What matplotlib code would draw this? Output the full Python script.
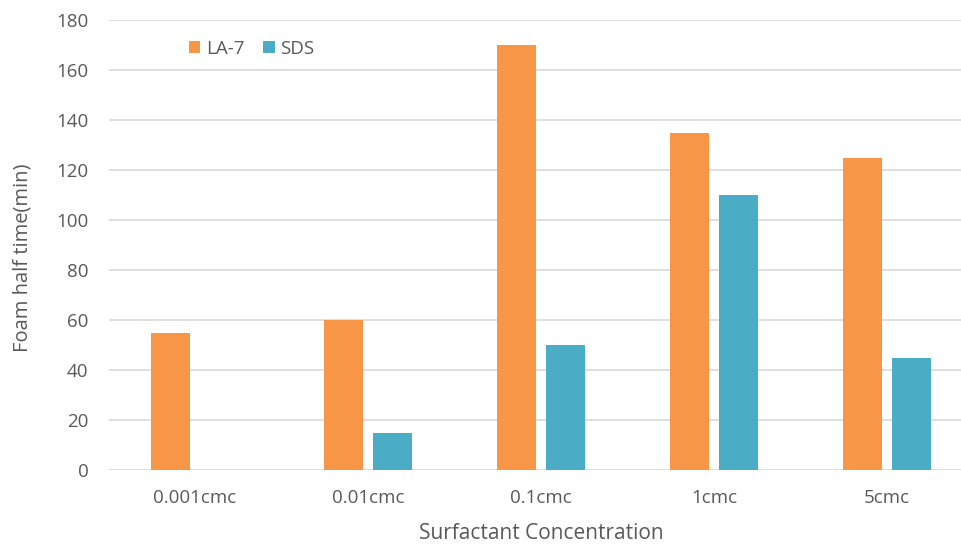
import numpy as np
import matplotlib.pyplot as plt

plt.rcParams['font.family'] = ['Open Sans', 'DejaVu Sans']

# Data
categories = ['0.001cmc', '0.01cmc', '0.1cmc', '1cmc', '5cmc']
la7 = [55, 60, 170, 135, 125]
sds = [0, 15, 50, 110, 45]

W, H = 961, 544
fig = plt.figure(figsize=(W / 100, H / 100), dpi=100)
ax = fig.add_axes([108.5 / W, 74 / H, 865 / W, 450 / H])

x = np.arange(len(categories))
bw = 0.225
off = 0.143
ax.bar(x - off, la7, bw, color='#F79646', label='LA-7', zorder=3)
ax.bar(x + off, sds, bw, color='#4BACC6', label='SDS', zorder=3)

ax.set_xlim(-0.5, 4.5)
ax.set_ylim(0, 180)
ax.set_yticks(range(0, 181, 20))
ax.set_xticks(x)
ax.set_xticklabels(categories)
ax.grid(axis='y', color='#d9d9d9', linewidth=1.2, zorder=0)
for s in ax.spines.values():
    s.set_visible(False)
ax.tick_params(length=0, colors='#595959', labelsize=13.5)
ax.tick_params(axis='y', pad=14.5)
ax.tick_params(axis='x', pad=14)

ax.set_ylabel('Foam half time(min)', fontsize=14.5, color='#595959')
ax.yaxis.set_label_coords(-0.099, 0.472)
ax.yaxis.label.set_va('center')
ax.set_xlabel('Surfactant Concentration', fontsize=15, color='#595959', labelpad=11)

leg = ax.legend(loc='upper left', bbox_to_anchor=(0.073, 0.994), ncol=2, frameon=False,
                fontsize=13.5, handlelength=0.62, handleheight=0.62, columnspacing=1.0,
                handletextpad=0.3)
for t in leg.get_texts():
    t.set_color('#595959')

fig.savefig('out.png', dpi=100)
